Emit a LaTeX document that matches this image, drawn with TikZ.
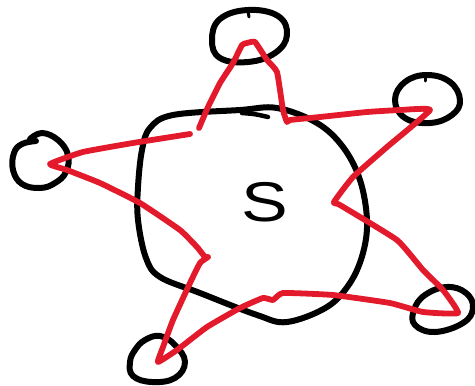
\documentclass[tikz,border=0pt]{standalone}
\usepackage{fontspec}
\setmainfont{Liberation Sans}
\definecolor{sred}{RGB}{227,26,43}
\begin{document}
\begin{tikzpicture}[x=1pt,y=-1pt,line cap=round,line join=round,
  ink/.style={line width=6pt,black},
  redink/.style={line width=5.8pt,sred}]
\useasboundingbox (0,0) rectangle (475,386);
% big blob
\draw[ink] plot[smooth cycle,tension=0.6] coordinates {(150,128) (173,115) (240,110) (277,108) (317,123) (343,147) (360,180) (367,220) (363,253) (350,283) (327,307) (287,322) (257,315) (200,293) (160,277) (146,258) (138,220) (138,187) (142,150)};
\draw[ink,line width=4.5pt] (242,113) .. controls (255,114) .. (268,117);
% small loops
\draw[ink] plot[smooth cycle,tension=0.7] coordinates {(212,40) (220,19) (248,10) (278,16) (287,35) (275,53) (248,62) (220,58)};
\draw[ink,line width=3pt] (248,11) -- (249,17);
\draw[ink] plot[smooth,tension=0.7] coordinates {(30,139) (42,133) (58,140) (68,155) (66,172) (55,183) (40,188) (22,184) (13,170) (14,153) (22,144) (36,141)};
\draw[ink] plot[smooth cycle,tension=0.7] coordinates {(395,100) (405,82) (427,75) (450,82) (460,100) (452,115) (430,123) (405,118)};
\draw[ink,line width=3pt] (425,76) -- (425,81);
\draw[ink] plot[smooth cycle,tension=0.7] coordinates {(414,310) (425,295) (447,287) (466,293) (473,308) (463,323) (435,332) (415,325)};
\draw[ink] plot[smooth cycle,tension=0.7] coordinates {(135,350) (145,340) (160,336) (175,345) (185,362) (175,378) (152,382) (133,376) (130,362)};
% label
\node[font=\fontsize{56}{60}\selectfont,xscale=1.25,inner sep=0pt] (s) at (265,202) {S};
% red star
\draw[redink] plot[smooth,tension=0.25] coordinates {(190,134) (133,143) (83,152) (50,164) (67,170) (100,183) (140,203) (180,230) (197,247) (205,257) (208,257) (200,263) (190,283) (173,320) (163,347) (158,362) (177,350) (207,327) (240,308) (263,298) (273,300) (283,293) (333,295) (390,303) (423,312) (458,313) (443,290) (423,270) (397,240) (340,205) (334,202) (353,177) (387,147) (430,110) (400,110) (367,112) (320,117) (290,120) (287,122) (283,110) (277,72) (267,60) (255,42) (247,43) (242,45) (233,63) (220,83) (208,107) (199,128)};
\end{tikzpicture}
\end{document}
